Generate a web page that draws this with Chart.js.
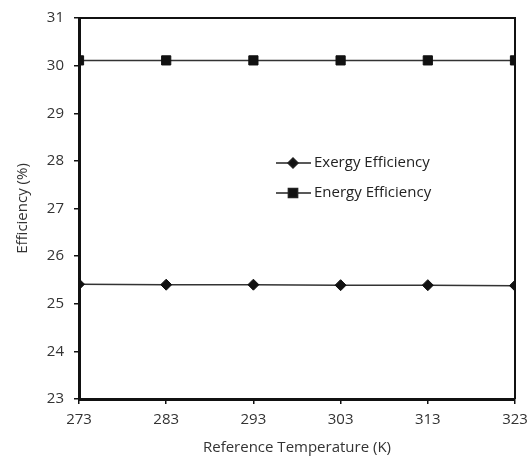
<!DOCTYPE html>
<html><head><meta charset="utf-8">
<script src="https://cdn.jsdelivr.net/npm/chart.js@4/dist/chart.umd.min.js"></script>
<style>html,body{margin:0;padding:0;background:#fff}#w{width:528px;height:457px}</style>
</head><body><div id="w"><canvas id="c"></canvas></div>
<script>
const temperatures = [273, 283, 293, 303, 313, 323];
const exergyEfficiency = [25.41, 25.40, 25.40, 25.39, 25.39, 25.38];
const energyEfficiency = [30.11, 30.11, 30.11, 30.11, 30.11, 30.11];
const xTicks = [273, 283, 293, 303, 313, 323];
const yTicks = [23, 24, 25, 26, 27, 28, 29, 30, 31];
const seriesNames = ['Exergy Efficiency', 'Energy Efficiency'];

const FONT = '"Open Sans", sans-serif';
const frame = {
  id: 'frame',
  afterDraw(ch) {
    const a = ch.chartArea, c = ch.ctx;
    c.save();
    c.strokeStyle = '#111';
    c.lineWidth = 2;
    c.beginPath();
    c.moveTo(a.left, a.top); c.lineTo(a.right, a.top); c.lineTo(a.right, a.bottom);
    c.stroke();
    // legend
    const items = [
      {name: seriesNames[0], style: 'rectRot', r: 5, y: a.top + 145},
      {name: seriesNames[1], style: 'rect', r: 6.5, y: a.top + 175}
    ];
    c.font = '15px ' + FONT;
    c.textBaseline = 'middle';
    items.forEach(it => {
      c.strokeStyle = '#222'; c.lineWidth = 1.5;
      c.beginPath(); c.moveTo(a.left + 197, it.y); c.lineTo(a.left + 232, it.y); c.stroke();
      c.fillStyle = '#111';
      Chart.helpers.drawPoint(c, {pointStyle: it.style, radius: it.r, borderWidth: 1}, a.left + 214, it.y);
      c.fillStyle = '#222';
      c.fillText(it.name, a.left + 235, it.y);
    });
    c.restore();
  }
};

new Chart(document.getElementById('c'), {
  type: 'line',
  data: {
    datasets: [
      {label: seriesNames[0], data: temperatures.map((t, i) => ({x: t, y: exergyEfficiency[i]})),
       borderColor: '#333', borderWidth: 1.5, pointStyle: 'rectRot', pointRadius: 5.5,
       pointBackgroundColor: '#111', pointBorderColor: '#111', pointBorderWidth: 1},
      {label: seriesNames[1], data: temperatures.map((t, i) => ({x: t, y: energyEfficiency[i]})),
       borderColor: '#333', borderWidth: 1.5, pointStyle: 'rect', pointRadius: 6.5,
       pointBackgroundColor: '#111', pointBorderColor: '#111', pointBorderWidth: 1}
    ]
  },
  options: {
    responsive: true, maintainAspectRatio: false, animation: false,
    layout: {padding: {top: 18, right: 13, left: 0, bottom: 0}},
    plugins: {legend: {display: false}, tooltip: {enabled: false}},
    scales: {
      x: {
        type: 'linear', min: 273, max: 323,
        afterBuildTicks: s => { s.ticks = xTicks.map(v => ({value: v})); },
        afterFit: s => { s.height = 58; s.paddingRight = 0; s.paddingLeft = 0; },
        border: {display: true, color: '#111', width: 3},
        grid: {drawOnChartArea: false, drawTicks: true, tickLength: 5, color: '#111', lineWidth: 1.5},
        ticks: {color: '#333', font: {family: FONT, size: 15}, padding: 7, maxRotation: 0},
        title: {display: true, text: 'Reference Temperature (K)', color: '#333', font: {family: FONT, size: 15}, padding: {top: 2, bottom: 0}}
      },
      y: {
        min: 23, max: 31,
        afterBuildTicks: s => { s.ticks = yTicks.map(v => ({value: v})); },
        afterFit: s => { s.width = 79; s.paddingTop = 0; s.paddingBottom = 0; },
        border: {display: true, color: '#111', width: 3},
        grid: {drawOnChartArea: false, drawTicks: true, tickLength: 5, color: '#111', lineWidth: 1.5},
        ticks: {color: '#333', font: {family: FONT, size: 15}, padding: 10},
        title: {display: true, text: 'Efficiency (%)', color: '#333', font: {family: FONT, size: 15}, padding: {top: 14, bottom: 0}}
      }
    }
  },
  plugins: [frame]
});
</script></body></html>
